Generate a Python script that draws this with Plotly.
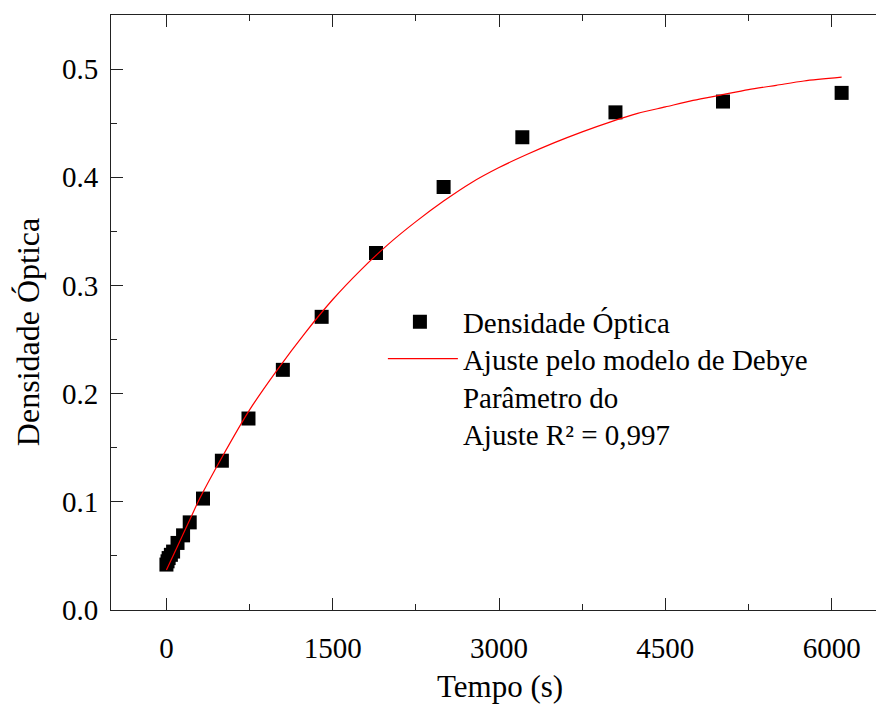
import plotly.graph_objects as go

# Measured data (time in s, optical density)
tempo = [0, 10, 20, 40, 60, 100, 150, 210, 330, 500, 740, 1050, 1400, 1890, 2500, 3210, 4050, 5020, 6090]
densidade = [0.042, 0.045, 0.048, 0.051, 0.054, 0.062, 0.069, 0.081, 0.103, 0.138, 0.177, 0.222,
             0.271, 0.330, 0.391, 0.437, 0.460, 0.470, 0.478]

# Fitted curve
ajuste_t = [0, 100, 200, 300, 500, 750, 1000, 1250, 1500, 1750, 2000, 2250, 2500, 2750, 3000,
            3250, 3500, 3750, 4000, 4250, 4500, 4750, 5000, 5250, 5500, 5750, 6090]
ajuste_y = [0.037, 0.059, 0.081, 0.103, 0.141, 0.185, 0.222, 0.256, 0.287, 0.314, 0.338, 0.359,
            0.378, 0.395, 0.409, 0.421, 0.432, 0.442, 0.451, 0.459, 0.465, 0.471, 0.476, 0.481,
            0.485, 0.489, 0.4925]

x_ticks = [0, 1500, 3000, 4500, 6000]
y_ticks = [0.0, 0.1, 0.2, 0.3, 0.4, 0.5]

FONT = "Liberation Serif"

fig = go.Figure()
fig.add_trace(go.Scatter(
    x=tempo, y=densidade, mode="markers", name="Densidade Óptica",
    marker=dict(symbol="square", size=14, color="black"),
    legend="legend",
))
fig.add_trace(go.Scatter(
    x=ajuste_t, y=ajuste_y, mode="lines",
    name="Ajuste pelo modelo de Debye<br>Parâmetro do<br>Ajuste R² = 0,997",
    line=dict(color="red", width=1.2, shape="spline", smoothing=0.8),
    legend="legend2",
))

axis_common = dict(
    showline=True, linecolor="#222", linewidth=1,
    ticks="inside", ticklen=12, tickwidth=1, tickcolor="#222",
    showgrid=False, zeroline=False, automargin=False,
    tickfont=dict(family=FONT, size=29, color="black"),
)

fig.update_xaxes(
    range=[-500, 6400], tickvals=x_ticks, ticktext=[str(v) for v in x_ticks],
    minor=dict(ticks="inside", ticklen=6, dtick=750, tickcolor="#222", showgrid=False),
    ticklabelstandoff=12, mirror="ticks",
    **axis_common,
)
fig.update_yaxes(
    range=[0, 0.55], tickvals=y_ticks, ticktext=[f"{v:.1f}" for v in y_ticks],
    minor=dict(ticks="inside", ticklen=6, dtick=0.05, tickcolor="#222", showgrid=False),
    ticklabelstandoff=6, mirror=False,
    **axis_common,
)

legend_common = dict(
    xanchor="left", yanchor="top",
    font=dict(family=FONT, size=29, color="black"),
    bgcolor="rgba(0,0,0,0)", valign="top",
)

fig.update_layout(
    width=877, height=704,
    margin=dict(l=111, r=1, t=15, b=94),
    paper_bgcolor="white", plot_bgcolor="white",
    showlegend=True,
    legend=dict(x=0.3476, y=0.527, itemwidth=76, **legend_common),
    legend2=dict(x=0.3554, y=0.465, itemwidth=70, **legend_common),
    annotations=[
        dict(text="Densidade Óptica", textangle=-90, xref="paper", yref="paper",
             x=-0.1085, y=0.467, xanchor="center", yanchor="middle", showarrow=False,
             font=dict(family=FONT, size=32, color="black")),
        dict(text="Tempo (s)", xref="paper", yref="paper",
             x=0.5085, y=-0.128, xanchor="center", yanchor="middle", showarrow=False,
             font=dict(family=FONT, size=31, color="black")),
    ],
)

fig.write_html("out.html")
